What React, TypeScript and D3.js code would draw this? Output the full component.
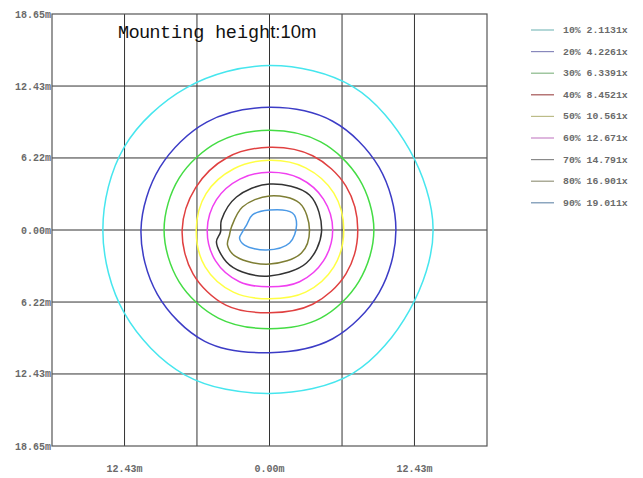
import React from "react";
import * as d3 from "d3";

const W = 643;
const H = 478;

const axisTicks = [-18.65, -12.43, -6.22, 0, 6.22, 12.43, 18.65];
const xLabelTicks = [-12.43, 0, 12.43];

const levelLabels = [
  "10% 2.1131x",
  "20% 4.2261x",
  "30% 6.3391x",
  "40% 8.4521x",
  "50% 10.561x",
  "60% 12.671x",
  "70% 14.791x",
  "80% 16.901x",
  "90% 19.011x",
];

const lineColors = ["#46e6ee", "#3c3cc6", "#44dc44", "#e04040", "#ffff44", "#f040f0", "#333333", "#7e7e34", "#4c9ae6"];
const legendColors = ["#80bcbc", "#8888bc", "#88b888", "#a45454", "#bcbc88", "#c888c8", "#8a8a8a", "#96967e", "#7090b0"];

// polar radii (m) at 0,30,...,330 degrees (counterclockwise from east)
const polarAngles = [0, 30, 60, 90, 120, 150, 180, 210, 240, 270, 300, 330];
const r10 = [14.03, 13.86, 14.29, 14.2, 14.2, 14.37, 14.29, 14.37, 14.46, 14.11, 14.29, 13.86];
const r20 = [10.84, 10.84, 10.84, 10.59, 10.76, 10.84, 11.02, 11.1, 11.1, 10.59, 10.84, 10.84];
const r30 = [8.95, 8.86, 8.78, 8.61, 8.78, 8.95, 9.04, 8.95, 8.78, 8.52, 8.78, 8.86];
const r40 = [7.57, 7.57, 7.4, 7.14, 7.23, 7.31, 7.49, 7.57, 7.49, 7.14, 7.4, 7.57];
const r50 = [6.37, 6.37, 6.2, 6.02, 6.11, 6.28, 6.28, 6.37, 6.2, 5.94, 6.2, 6.37];
const r60 = [5.42, 5.34, 5.16, 4.99, 5.08, 5.25, 5.34, 5.34, 5.16, 4.91, 5.16, 5.34];

// irregular inner contours, points in metres
const pts70: [number, number][] = [
  [0, 3.97], [-2.83, 2.85], [-4.12, 0.86], [-4.2, -0.17], [-4.55, -1.04], [-3.69, -2.76],
  [-2.32, -3.63], [0, -3.97], [3.17, -2.85], [4.46, -0.17], [3.43, 3.02],
];
const pts80: [number, number][] = [
  [0, 2.94], [-2.32, 1.99], [-3.26, 0.26], [-3.43, -0.43], [-3.6, -1.3], [-2.83, -2.33],
  [0, -2.94], [2.74, -1.99], [3.43, 0], [2.57, 2.33],
];
const pts90: [number, number][] = [
  [0, 1.73], [-1.46, 1.3], [-1.97, 0.43], [-2.32, -0.17], [-2.57, -0.69], [-2.14, -1.3],
  [-0.26, -1.73], [1.72, -1.12], [2.32, 0.43], [1.97, 1.47],
];

const polarToPts = (radii: number[]): [number, number][] =>
  radii.map((r, i) => {
    const a = (polarAngles[i] * Math.PI) / 180;
    return [r * Math.cos(a), r * Math.sin(a)];
  });

const contours: [number, number][][] = [
  polarToPts(r10), polarToPts(r20), polarToPts(r30), polarToPts(r40), polarToPts(r50), polarToPts(r60),
  pts70, pts80, pts90,
];

export default function App() {
  const x = d3.scaleLinear().domain([-18.65, 18.65]).range([52, 487]);
  const y = d3.scaleLinear().domain([-18.65, 18.65]).range([446, 14]);
  const line = d3
    .line<[number, number]>()
    .x((d) => x(d[0]))
    .y((d) => y(d[1]))
    .curve(d3.curveCatmullRomClosed.alpha(0.5));

  const mono = "'Liberation Mono', 'DejaVu Sans Mono', monospace";
  const sans = "'Liberation Sans', Arial, sans-serif";

  return (
    <svg width={W} height={H} style={{ position: "absolute", left: 0, top: 0, background: "#fff" }}>
      <rect x={0} y={0} width={W} height={H} fill="#fff" />
      {/* grid */}
      {axisTicks.slice(1, -1).map((t, i) => (
        <g key={i}>
          <line x1={x(t)} x2={x(t)} y1={y(18.65)} y2={y(-18.65)} stroke="#333" strokeWidth={1} />
          <line x1={x(-18.65)} x2={x(18.65)} y1={y(t)} y2={y(t)} stroke="#333" strokeWidth={1} />
        </g>
      ))}
      <rect
        x={x(-18.65)}
        y={y(18.65)}
        width={x(18.65) - x(-18.65)}
        height={y(-18.65) - y(18.65)}
        fill="none"
        stroke="#555"
        strokeWidth={1.2}
      />
      {/* contours */}
      {contours.map((c, i) => (
        <path key={i} d={line(c) || ""} fill="none" stroke={lineColors[i]} strokeWidth={1.5} />
      ))}
      {/* y labels */}
      {axisTicks.map((t, i) => (
        <text
          key={i}
          x={51}
          y={y(t) + 3.5}
          textAnchor="end"
          fontFamily={mono}
          fontSize={10}
          fontWeight="bold"
          fill="#6a6a6a"
        >
          {Math.abs(t).toFixed(2)}m
        </text>
      ))}
      {/* x labels */}
      {xLabelTicks.map((t, i) => (
        <text
          key={i}
          x={x(t)}
          y={472}
          textAnchor="middle"
          fontFamily={mono}
          fontSize={10}
          fontWeight="bold"
          fill="#6a6a6a"
        >
          {Math.abs(t).toFixed(2)}m
        </text>
      ))}
      {/* title */}
      <text x={118} y={38} fontSize={18.5} fill="#111">
        <tspan fontFamily={mono}>M</tspan>
        <tspan fontFamily={sans}>oun</tspan>
        <tspan fontFamily={mono}>ting </tspan>
        <tspan fontFamily={sans}>h</tspan>
        <tspan fontFamily={mono}>eigh</tspan>
        <tspan fontFamily={sans}>t:10m</tspan>
      </text>
      {/* legend */}
      {levelLabels.map((l, i) => {
        const ly = 30 + i * 21.6;
        return (
          <g key={i}>
            <line x1={531} x2={554} y1={ly} y2={ly} stroke={legendColors[i]} strokeWidth={1.2} />
            <text x={563} y={ly + 3} fontFamily={mono} fontSize={9.8} fontWeight="bold" fill="#6a6a6a">
              {l}
            </text>
          </g>
        );
      })}
    </svg>
  );
}
